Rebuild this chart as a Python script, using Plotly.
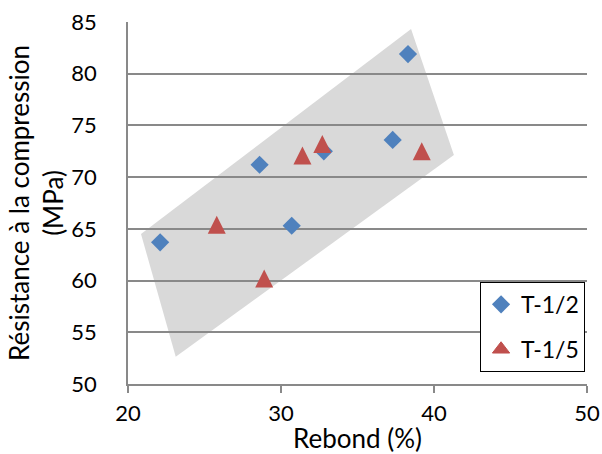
import plotly.graph_objects as go

# Data
t12_x = [22.1, 28.6, 30.7, 32.8, 37.3, 38.3]
t12_y = [63.7, 71.2, 65.3, 72.5, 73.6, 81.9]
t15_x = [25.8, 28.9, 31.4, 32.7, 39.2]
t15_y = [65.4, 60.2, 72.1, 73.2, 72.5]
zone_x = [20.85, 38.5, 41.3, 23.12]
zone_y = [64.5, 84.32, 72.14, 52.63]
x_ticks = [20, 30, 40, 50]
y_ticks = [50, 55, 60, 65, 70, 75, 80, 85]

FONT = "Lato, Calibri, sans-serif"
GRID = "#898989"
BLUE = "#4F81BD"
RED = "#C0504D"
Y_RANGE = [50, 85]
PLOT_H = 454 - 22 - 70
TRI = 18  # triangle marker size in px
shift = (TRI / 2) * (Y_RANGE[1] - Y_RANGE[0]) / PLOT_H  # centre the arrow-shaped triangle on its point

path = "M " + " L ".join(f"{x},{y}" for x, y in zip(zone_x, zone_y)) + " Z"

fig = go.Figure()
fig.add_trace(go.Scatter(
    x=t12_x, y=t12_y, mode="markers", name="T-1/2", legendgroup="a",
    marker=dict(symbol="diamond", size=14, color=BLUE, line=dict(width=0)),
))
fig.add_trace(go.Scatter(
    x=t15_x, y=t15_y, mode="markers", name="T-1/5", legendgroup="b", yaxis="y2",
    showlegend=False,
    marker=dict(symbol="arrow-up", size=TRI, color=RED, line=dict(width=0)),
))
# legend entry for the triangles (no points drawn)
fig.add_trace(go.Scatter(
    x=[None], y=[None], mode="markers", name="T-1/5", legendgroup="b",
    marker=dict(symbol="triangle-up", size=15, color=RED, line=dict(width=1, color=RED)),
))

fig.add_shape(type="path", path=path, xref="x", yref="y", layer="below",
              fillcolor="#D9D9D9", line=dict(width=0))

fig.update_layout(
    width=602, height=454,
    margin=dict(l=128, r=15, t=22, b=70),
    paper_bgcolor="white", plot_bgcolor="white",
    font=dict(family=FONT, size=21, color="black"),
    showlegend=True,
    legend=dict(x=0.767, y=0.282, xanchor="left", yanchor="top",
                bordercolor="black", borderwidth=1, bgcolor="white",
                traceorder="grouped", tracegroupgap=12, itemwidth=30,
                font=dict(family=FONT, size=23)),
    xaxis=dict(range=[20, 50], tickvals=x_ticks, showgrid=False, zeroline=False,
               showline=True, linecolor=GRID, linewidth=1.5,
               ticks="outside", ticklen=7, tickcolor=GRID, tickwidth=1.5,
               tickfont=dict(size=22), ticklabeloverflow="allow", ticklabelstandoff=2,
               title=dict(text="Rebond (%)", font=dict(size=26), standoff=12),
               automargin=False),
    yaxis=dict(range=Y_RANGE, tickvals=y_ticks, showgrid=True, gridcolor=GRID, gridwidth=1.5,
               zeroline=False, showline=True, linecolor=GRID, linewidth=1.5,
               ticks="", tickfont=dict(size=22), ticklabelstandoff=25,
               title=dict(text="Résistance à la compression<br>(MPa)", font=dict(size=26), standoff=0),
               automargin=False),
    yaxis2=dict(overlaying="y", range=[Y_RANGE[0] - shift, Y_RANGE[1] - shift],
                visible=False, showgrid=False),
)

fig.write_html("out.html", config={"displayModeBar": False},
               post_script="document.body.style.margin='0';document.body.style.overflow='hidden';")
